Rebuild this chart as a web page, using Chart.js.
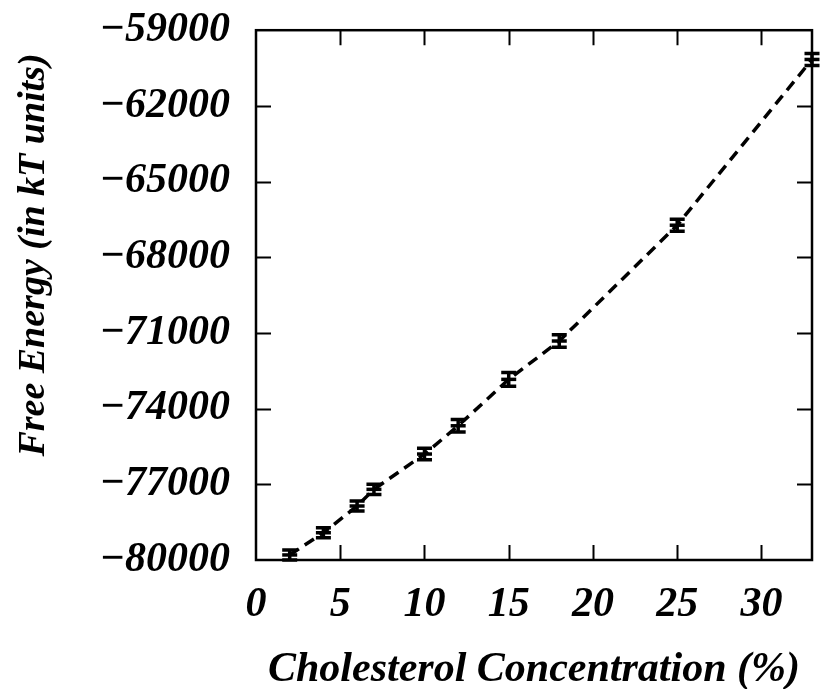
<!DOCTYPE html>
<html>
<head>
<meta charset="utf-8">
<script src="https://cdn.jsdelivr.net/npm/chart.js@4/dist/chart.umd.min.js"></script>
<style>
html,body{margin:0;padding:0;background:#fff;}
#wrap{width:823px;height:689px;}
</style>
</head>
<body>
<div id="wrap"><canvas id="c" width="823" height="689"></canvas></div>
<script>
// ---- data ----
const concentration = [2, 4, 6, 7, 10, 12, 15, 18, 25, 33];
const freeEnergy = [-79800, -78920, -77860, -77200, -75800, -74680, -72840, -71320, -66730, -60160];
const energyError = [200, 200, 200, 200, 230, 250, 270, 250, 240, 240];
const xTickValues = [0, 5, 10, 15, 20, 25, 30];
const yTickValues = [-80000, -77000, -74000, -71000, -68000, -65000, -62000, -59000];
const xTitle = 'Cholesterol Concentration (%)';
const yTitle = 'Free Energy (in kT units)';

const FONT = 'Liberation Serif';
const fmt = v => v < 0 ? '\u2212' + Math.abs(v) : String(v);

const framePlugin = {
  id: 'frame',
  afterDatasetsDraw(chart) {
    const {ctx, chartArea: a, scales: {x, y}} = chart;
    const L = 15;
    ctx.save();
    ctx.strokeStyle = '#000';
    ctx.lineWidth = 2;
    ctx.beginPath();
    xTickValues.forEach(v => {
      const px = Math.round(x.getPixelForValue(v)) + 0.5;
      if (px <= a.left + 2 || px >= a.right - 2) return;
      ctx.moveTo(px, a.bottom); ctx.lineTo(px, a.bottom - L);
      ctx.moveTo(px, a.top); ctx.lineTo(px, a.top + L);
    });
    yTickValues.forEach(v => {
      const py = Math.round(y.getPixelForValue(v)) + 0.5;
      if (py <= a.top + 2 || py >= a.bottom - 2) return;
      ctx.moveTo(a.left, py); ctx.lineTo(a.left + L, py);
      ctx.moveTo(a.right, py); ctx.lineTo(a.right - L, py);
    });
    ctx.stroke();
    ctx.lineWidth = 2.5;
    ctx.strokeRect(a.left, a.top, a.right - a.left, a.bottom - a.top);
    // y-axis title
    ctx.fillStyle = '#000';
    ctx.font = 'italic bold 38px "' + FONT + '"';
    ctx.textAlign = 'center';
    ctx.textBaseline = 'middle';
    ctx.translate(34, 255);
    ctx.rotate(-Math.PI / 2);
    ctx.fillText(yTitle, 0, 0);
    ctx.restore();
  }
};

const errorBarPlugin = {
  id: 'errorBars',
  afterDatasetsDraw(chart) {
    const {ctx, scales: {x, y}} = chart;
    ctx.save();
    ctx.strokeStyle = '#000';
    ctx.lineWidth = 3.5;
    ctx.setLineDash([]);
    concentration.forEach((c, i) => {
      const px = x.getPixelForValue(c);
      const top = y.getPixelForValue(freeEnergy[i] + energyError[i]);
      const bot = y.getPixelForValue(freeEnergy[i] - energyError[i]);
      const w = 7.5;
      ctx.beginPath();
      ctx.moveTo(px, top); ctx.lineTo(px, bot);
      ctx.moveTo(px - w, top); ctx.lineTo(px + w, top);
      ctx.moveTo(px - w, bot); ctx.lineTo(px + w, bot);
      ctx.stroke();
    });
    ctx.restore();
  }
};

new Chart(document.getElementById('c'), {
  type: 'scatter',
  data: {
    datasets: [{
      data: concentration.map((c, i) => ({x: c, y: freeEnergy[i]})),
      showLine: true,
      borderColor: '#000',
      borderWidth: 3.5,
      borderDash: [11, 7],
      pointStyle: 'line',
      pointRadius: 7.5,
      pointBorderWidth: 3.5,
      pointBorderColor: '#000',
      pointBackgroundColor: '#000',
      clip: false
    }]
  },
  options: {
    responsive: false,
    animation: false,
    events: [],
    layout: {padding: {left: 0, right: 8, top: 22, bottom: 0}},
    plugins: {legend: {display: false}, tooltip: {enabled: false}},
    scales: {
      x: {
        type: 'linear', min: 0, max: 33,
        afterBuildTicks: s => { s.ticks = xTickValues.map(v => ({value: v})); },
        afterFit: s => { s.height = 129; },
        grid: {display: false, drawTicks: false},
        border: {display: false},
        ticks: {
          padding: 20, color: '#000', maxRotation: 0, autoSkip: false,
          font: {family: FONT, size: 42, weight: 'bold', style: 'italic'},
          callback: v => fmt(v)
        },
        title: {
          display: true, text: xTitle, color: '#000',
          font: {family: FONT, size: 42, weight: 'bold', style: 'italic', lineHeight: 0.9},
          padding: {top: 0, bottom: 0}
        }
      },
      y: {
        type: 'linear', min: -80000, max: -59000,
        afterBuildTicks: s => { s.ticks = yTickValues.map(v => ({value: v})); },
        afterFit: s => { s.width = 256; },
        grid: {display: false, drawTicks: false},
        border: {display: false},
        ticks: {
          padding: 26, color: '#000', autoSkip: false,
          font: {family: FONT, size: 42, weight: 'bold', style: 'italic', lineHeight: 0.2},
          callback: v => fmt(v)
        },
        title: {display: false}
      }
    }
  },
  plugins: [framePlugin, errorBarPlugin]
});
</script>
</body>
</html>
